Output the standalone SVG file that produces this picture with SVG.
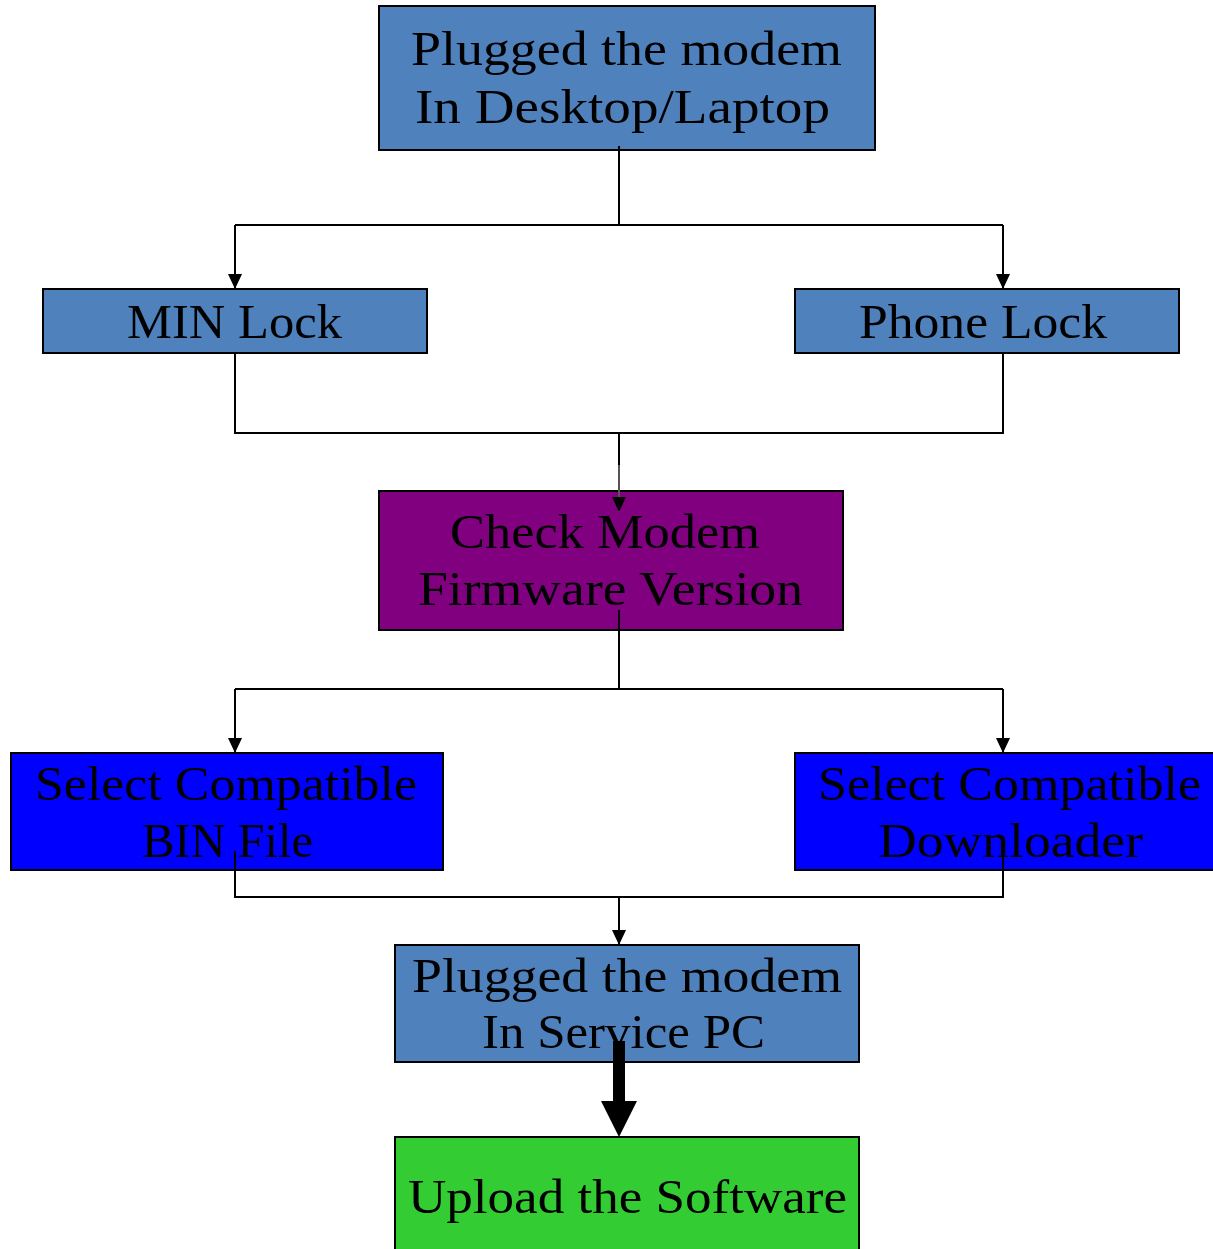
<svg xmlns="http://www.w3.org/2000/svg" width="1213" height="1249" viewBox="0 0 1213 1249">
<style>
.box{stroke:#000;stroke-width:2}
.lt{fill:#4F81BD}
.pu{fill:#800080}
.bl{fill:#0000FF}
.gr{fill:#33CC33}
.t{font-family:"Liberation Serif","Times New Roman",serif;font-size:48px;fill:#000;text-anchor:middle}
.c{stroke:#000;stroke-width:2;fill:none}
</style>
<defs>
<marker id="ah" markerUnits="userSpaceOnUse" markerWidth="16" markerHeight="14" refX="15" refY="7" orient="auto" viewBox="0 0 16 14">
<path d="M0,0 L15,7 L0,14 Z" fill="#000"/>
</marker>
</defs>
<rect width="1213" height="1249" fill="#fff"/>
<g id="n1"><rect class="box lt" x="379" y="6" width="496" height="144"/>
<text class="t" x="626.5" y="65" textLength="431" lengthAdjust="spacingAndGlyphs">Plugged the modem</text>
<text class="t" x="622.5" y="123" textLength="415" lengthAdjust="spacingAndGlyphs">In Desktop/Laptop</text></g>
<g id="n2"><rect class="box lt" x="43" y="289" width="384" height="64"/>
<text class="t" x="234.5" y="338" textLength="215" lengthAdjust="spacingAndGlyphs">MIN Lock</text></g>
<g id="n3"><rect class="box lt" x="795" y="289" width="384" height="64"/>
<text class="t" x="983" y="338" textLength="248" lengthAdjust="spacingAndGlyphs">Phone Lock</text></g>
<g id="n4"><rect class="box pu" x="379" y="491" width="464" height="139"/>
<text class="t" x="605" y="548" textLength="310" lengthAdjust="spacingAndGlyphs">Check Modem</text>
<text class="t" x="610.5" y="605" textLength="385" lengthAdjust="spacingAndGlyphs">Firmware Version</text></g>
<g id="n5"><rect class="box bl" x="11" y="753" width="432" height="117"/>
<text class="t" x="226" y="800" textLength="382" lengthAdjust="spacingAndGlyphs">Select Compatible</text>
<text class="t" x="227.5" y="857" textLength="171" lengthAdjust="spacingAndGlyphs">BIN File</text></g>
<g id="n6"><rect class="box bl" x="795" y="753" width="430" height="117"/>
<text class="t" x="1009.5" y="800" textLength="383" lengthAdjust="spacingAndGlyphs">Select Compatible</text>
<text class="t" x="1010.5" y="857" textLength="265" lengthAdjust="spacingAndGlyphs">Downloader</text></g>
<g id="n7"><rect class="box lt" x="395" y="945" width="464" height="117"/>
<text class="t" x="627" y="992" textLength="430" lengthAdjust="spacingAndGlyphs">Plugged the modem</text>
<text class="t" x="623.5" y="1048" textLength="283" lengthAdjust="spacingAndGlyphs">In Service PC</text></g>
<g id="n8"><rect class="box gr" x="395" y="1137" width="464" height="130"/>
<text class="t" x="627.5" y="1213" textLength="439" lengthAdjust="spacingAndGlyphs">Upload the Software</text></g>
<g id="connectors">
<path class="c" d="M619,146 V225 M235,225 H1003"/>
<path class="c" d="M235,225 V289" marker-end="url(#ah)"/>
<path class="c" d="M1003,225 V289" marker-end="url(#ah)"/>
<path class="c" d="M235,353 V433 H1003 V353 M619,433 V465"/>
<path d="M619,465 V512" stroke="#555" stroke-width="2" fill="none" marker-end="url(#ah)"/>
<path class="c" d="M619,610 V689 M235,689 H1003"/>
<path class="c" d="M235,689 V753" marker-end="url(#ah)"/>
<path class="c" d="M1003,689 V753" marker-end="url(#ah)"/>
<path class="c" d="M235,851 V897 H1003 V855"/>
<path class="c" d="M619,897 V945" marker-end="url(#ah)"/>
<rect x="613" y="1041" width="12" height="62" fill="#000"/>
<path d="M601,1101 L637,1101 L619,1137 Z" fill="#000"/>
</g>
</svg>
